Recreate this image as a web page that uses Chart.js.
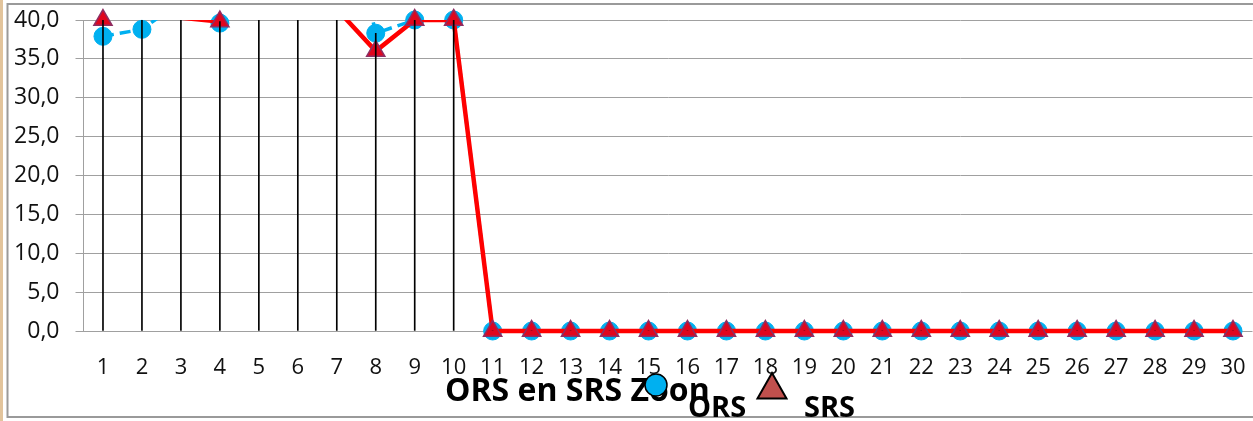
<!DOCTYPE html>
<html>
<head>
<meta charset="utf-8">
<script src="https://cdn.jsdelivr.net/npm/chart.js@4/dist/chart.umd.min.js"></script>
<style>
html,body{margin:0;padding:0;background:#fff;}
canvas{display:block;}
</style>
</head>
<body>
<canvas id="c" width="1253" height="421"></canvas>
<script>
const categories = ['1','2','3','4','5','6','7','8','9','10','11','12','13','14','15','16','17','18','19','20','21','22','23','24','25','26','27','28','29','30'];
const orsValues = [37.9, 38.8, 42.4, 39.6, 50, 50, 60, 38.3, 40, 40, 0, 0, 0, 0, 0, 0, 0, 0, 0, 0, 0, 0, 0, 0, 0, 0, 0, 0, 0, 0];
const srsValues = [40, 45, 40.3, 39.8, 50, 48, 41.4, 36, 40, 40, 0, 0, 0, 0, 0, 0, 0, 0, 0, 0, 0, 0, 0, 0, 0, 0, 0, 0, 0, 0];
const yTicks = [0, 5, 10, 15, 20, 25, 30, 35, 40];
const titleText = 'ORS en SRS Zoon';
const seriesNames = ['ORS', 'SRS'];

const Y_MIN = yTicks[0], Y_MAX = yTicks[yTicks.length - 1];
const dropLines = categories.map((_, i) => [0, Math.max(orsValues[i], srsValues[i])]);

const BLUE = '#00B0F0';
const RED = '#FF0000';
const TRI_FILL = '#E0061E';
const TRI_EDGE = '#8E2E63';
const FONT = '"Open Sans", "Liberation Sans", sans-serif';

const framePlugin = {
  id: 'frame',
  afterLayout(chart) {
    // plot area reaches the right edge of the picture, as in the reference
    const x = chart.scales.x;
    const target = chart.width - 0.5;
    x.right = target;
    x.width = target - x.left;
    chart.chartArea.right = target;
    chart.chartArea.width = target - chart.chartArea.left;
    x.configure();
  },
  beforeDraw(chart) {
    const ctx = chart.ctx;
    ctx.save();
    ctx.fillStyle = '#fff';
    ctx.fillRect(0, 0, chart.width, chart.height);
    ctx.fillStyle = '#E2C49C';
    ctx.fillRect(0, 0, 3, chart.height);
    ctx.strokeStyle = '#9a9a9a';
    ctx.lineWidth = 2;
    ctx.beginPath();
    ctx.moveTo(chart.width, 4);
    ctx.lineTo(7.5, 4);
    ctx.lineTo(7.5, 417);
    ctx.lineTo(chart.width, 417);
    ctx.stroke();
    ctx.restore();
  },
  afterDraw(chart) {
    const ctx = chart.ctx;
    ctx.save();
    ctx.fillStyle = '#000';
    ctx.textBaseline = 'alphabetic';
    ctx.textAlign = 'left';
    ctx.font = 'bold 32px ' + FONT;
    ctx.fillText(titleText, 445, 401);
    ctx.beginPath();
    ctx.arc(656, 385, 11, 0, Math.PI * 2);
    ctx.fillStyle = BLUE;
    ctx.fill();
    ctx.lineWidth = 1.5;
    ctx.strokeStyle = '#000';
    ctx.stroke();
    ctx.beginPath();
    ctx.moveTo(772, 373);
    ctx.lineTo(786.5, 398.5);
    ctx.lineTo(757.5, 398.5);
    ctx.closePath();
    ctx.fillStyle = '#C0504D';
    ctx.fill();
    ctx.lineWidth = 2;
    ctx.strokeStyle = '#000';
    ctx.stroke();
    ctx.fillStyle = '#000';
    ctx.font = 'bold 29px ' + FONT;
    ctx.fillText(seriesNames[0], 688, 417);
    ctx.fillText(seriesNames[1], 804, 417);
    ctx.restore();
  }
};

new Chart(document.getElementById('c'), {
  data: {
    labels: categories,
    datasets: [
      {
        type: 'line', label: seriesNames[0], data: orsValues, order: 6,
        borderColor: BLUE, borderWidth: 3.5, borderDash: [11, 6],
        pointRadius: 0, clip: {left: 0, top: 0, right: 0, bottom: 4}
      },
      {
        type: 'line', label: seriesNames[0] + ' markers', data: orsValues, order: 5, showLine: false,
        pointStyle: 'circle', pointRadius: (c) => (c.raw > Y_MAX ? 0 : 9),
        pointBackgroundColor: BLUE, pointBorderColor: BLUE, pointBorderWidth: 1, clip: false
      },
      {
        type: 'line', label: seriesNames[1], data: srsValues, order: 4,
        borderColor: RED, borderWidth: 4.5,
        pointRadius: 0, clip: {left: 0, top: 0, right: 0, bottom: 4}
      },
      {
        type: 'line', label: seriesNames[1] + ' markers', data: srsValues, order: 3, showLine: false,
        pointStyle: 'triangle', pointRadius: (c) => (c.raw > Y_MAX ? 0 : 10.5),
        pointBackgroundColor: TRI_FILL, pointBorderColor: TRI_EDGE, pointBorderWidth: 1.5, clip: false
      },
      {
        type: 'bar', label: 'drop', data: dropLines, order: 1,
        backgroundColor: '#000', borderWidth: 0, barThickness: 1,
        grouped: false
      }
    ]
  },
  options: {
    responsive: false,
    animation: false,
    devicePixelRatio: 1,
    events: [],
    layout: {padding: {top: 20, left: 0, right: 0, bottom: 0}},
    plugins: {legend: {display: false}, title: {display: false}, tooltip: {enabled: false}},
    scales: {
      x: {
        type: 'category', offset: true,
        grid: {display: false, drawTicks: false},
        border: {display: false},
        ticks: {color: '#111', font: {family: FONT, size: 22}, padding: 24, maxRotation: 0, autoSkip: false},
        afterFit(s) { s.height = 90; s.paddingLeft = 0; s.paddingRight = 0; }
      },
      y: {
        min: Y_MIN, max: Y_MAX,
        afterBuildTicks(s) { s.ticks = yTicks.map(v => ({value: v})); },
        grid: {color: '#a0a0a0', lineWidth: 1, tickLength: 8, drawTicks: true},
        border: {display: true, color: '#a0a0a0', width: 1},
        ticks: {
          color: '#111', font: {family: FONT, size: 23}, padding: 16,
          callback: (v) => Number(v).toFixed(1).replace('.', ',')
        },
        afterFit(s) { s.width = 83.5; s.paddingTop = 0; s.paddingBottom = 0; }
      }
    }
  },
  plugins: [framePlugin]
});
</script>
</body>
</html>
